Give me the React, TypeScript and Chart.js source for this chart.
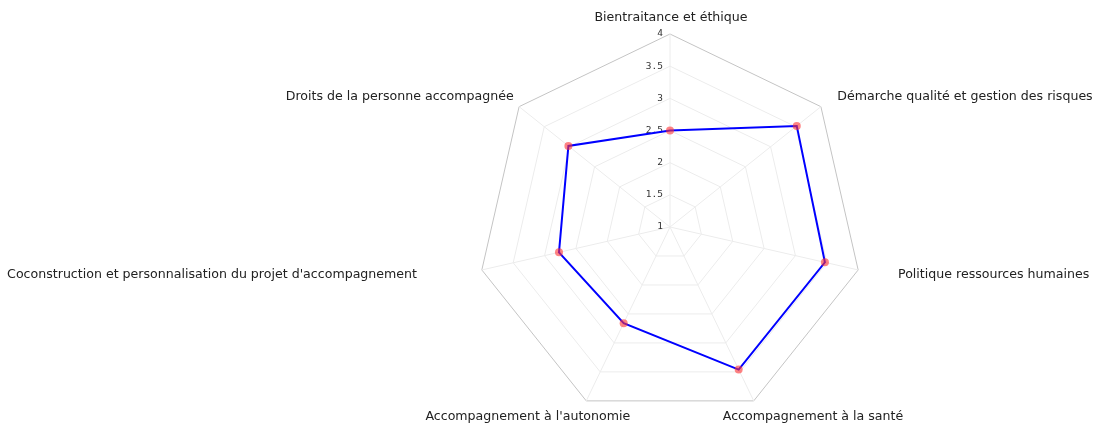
import React, { useEffect, useRef } from 'react';
import { Chart, registerables } from 'chart.js';

Chart.register(...registerables);

const categories = [
  'Bientraitance et éthique',
  'Démarche qualité et gestion des risques',
  'Politique ressources humaines',
  'Accompagnement à la santé',
  "Accompagnement à l'autonomie",
  "Coconstruction et personnalisation du projet d'accompagnement",
  'Droits de la personne accompagnée',
];
const scores = [2.5, 3.52, 3.47, 3.46, 2.66, 2.77, 3.02];
const tickValues = [1, 1.5, 2, 2.5, 3, 3.5, 4];

// label placement style (offsets from the point just outside the outer ring)
const LABEL_GAP = 7;
const LABEL_PLACEMENT: { align: CanvasTextAlign; dx: number; dy: number }[] = [
  { align: 'center', dx: 1, dy: -9 },
  { align: 'left', dx: 11, dy: -6 },
  { align: 'left', dx: 33, dy: 3.5 },
  { align: 'left', dx: -34, dy: 10 },
  { align: 'right', dx: 47, dy: 10 },
  { align: 'right', dx: -58, dy: 3.5 },
  { align: 'right', dx: 0, dy: -6 },
];

const overlayPlugin = {
  id: 'overlayLabels',
  beforeDatasetsDraw(chart: any) {
    const s = chart.scales.r;
    const ctx = chart.ctx;
    ctx.save();
    ctx.font = '9.5px "DejaVu Sans Mono"';
    ctx.fillStyle = '#333';
    ctx.textAlign = 'right';
    ctx.textBaseline = 'middle';
    s.ticks.forEach((t: any) => {
      const d = s.getDistanceFromCenterForValue(t.value);
      ctx.fillText(String(t.value), s.xCenter - 7, s.yCenter - d);
    });
    ctx.restore();
  },
  afterDraw(chart: any) {
    const s = chart.scales.r;
    const ctx = chart.ctx;
    ctx.save();
    ctx.font = '12.6px "DejaVu Sans"';
    ctx.fillStyle = '#222';
    ctx.textBaseline = 'middle';
    (chart.data.labels as string[]).forEach((label, i) => {
      const p = s.getPointPosition(i, s.drawingArea + LABEL_GAP);
      const pl = LABEL_PLACEMENT[i];
      ctx.textAlign = pl.align;
      ctx.fillText(label, p.x + pl.dx, p.y + pl.dy);
    });
    ctx.restore();
  },
};

export default function App() {
  const ref = useRef<HTMLCanvasElement | null>(null);
  useEffect(() => {
    if (!ref.current) return;
    const chart = new Chart(ref.current, {
      type: 'radar',
      data: {
        labels: categories,
        datasets: [
          {
            data: scores,
            borderColor: '#0000ff',
            borderWidth: 2,
            backgroundColor: 'transparent',
            fill: false,
            pointRadius: 4,
            pointBorderWidth: 0,
            pointBackgroundColor: 'rgba(255,50,50,0.6)',
            pointBorderColor: 'rgba(255,50,50,0.6)',
          },
        ],
      },
      options: {
        responsive: false,
        animation: false,
        layout: { padding: { left: 246, right: 0, top: 34, bottom: 5 } },
        plugins: { legend: { display: false }, tooltip: { enabled: false } },
        scales: {
          r: {
            min: tickValues[0],
            max: tickValues[tickValues.length - 1],
            ticks: { display: false, stepSize: tickValues[1] - tickValues[0] },
            grid: {
              color: (c: any) => (c.index === tickValues.length - 1 ? '#c4c4c4' : '#ececec'),
              lineWidth: 1,
            },
            angleLines: { color: '#ececec', lineWidth: 1 },
            pointLabels: { display: false },
            afterFit: (scale: any) => {
              scale.xCenter = Math.floor(scale.left + scale.width / 2);
              scale.yCenter = Math.floor(scale.top + scale.height / 2);
              scale.drawingArea = Math.min(scale.width, scale.height) / 2;
            },
          } as any,
        },
      },
      plugins: [overlayPlugin],
    });
    return () => chart.destroy();
  }, []);
  return (
    <div style={{ position: 'fixed', left: 0, top: 0, width: 1094, height: 425, background: '#fff' }}>
      <canvas ref={ref} width={1094} height={425} style={{ display: 'block' }} />
    </div>
  );
}
